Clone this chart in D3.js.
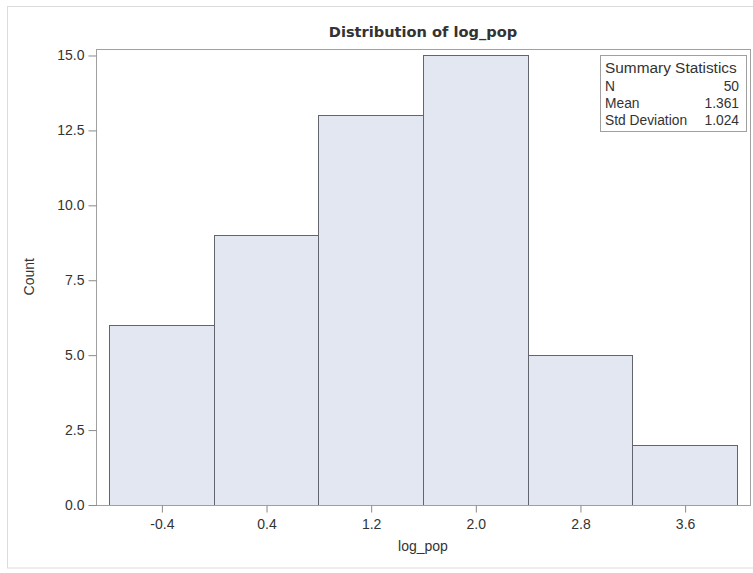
<!DOCTYPE html>
<html><head><meta charset="utf-8">
<script src="https://cdn.jsdelivr.net/npm/d3@7"></script>
<style>
html,body{margin:0;padding:0;background:#fff;}
text{font-family:"Liberation Sans",Arial,sans-serif;fill:#333;}
</style></head>
<body>
<svg id="chart" width="753" height="573"></svg>
<script>
const binCenters = [-0.4, 0.4, 1.2, 2.0, 2.8, 3.6];
const counts = [6, 9, 13, 15, 5, 2];
const binWidth = 0.8;
const yTicks = [0, 2.5, 5, 7.5, 10, 12.5, 15];
const statLabels = ["N", "Mean", "Std Deviation"];
const statValues = ["50", "1.361", "1.024"];

const svg = d3.select("#chart");
const L = 96, R = 750, T = 49, B = 504.5;

svg.append("rect").attr("x", 7.5).attr("y", 6.5).attr("width", 760).attr("height", 561.5)
  .attr("fill", "none").attr("stroke", "#dcdcdc");

const x = d3.scaleLinear().domain([-0.9, 4.1]).range([L, R]);
const y = d3.scaleLinear().domain([0, 15.2]).range([B, T]);

// bars
svg.append("g").selectAll("rect").data(binCenters).join("rect")
  .attr("x", (d) => Math.round(x(d - binWidth / 2)) + 0.5)
  .attr("width", (d) => Math.round(x(d + binWidth / 2)) - Math.round(x(d - binWidth / 2)))
  .attr("y", (d, i) => Math.round(y(counts[i])) + 0.5)
  .attr("height", (d, i) => Math.round(y(0)) - Math.round(y(counts[i])))
  .attr("fill", "#e3e7f1").attr("stroke", "#62656d").attr("stroke-width", 1);

// plot frame
svg.append("rect").attr("x", L + 0.5).attr("y", T + 0.5).attr("width", R - L).attr("height", Math.round(B) - T)
  .attr("fill", "none").attr("stroke", "#a0a0a0");

// x axis
const xAxis = d3.axisBottom(x).tickValues(binCenters).tickFormat(d3.format(".1f")).tickSize(7).tickPadding(4);
const gx = svg.append("g").attr("transform", `translate(0.5,${Math.round(B) + 0.5})`).call(xAxis);
gx.select(".domain").remove();
gx.selectAll("line").attr("stroke", "#8a8a8a");
gx.selectAll("text").attr("font-size", "14px").attr("fill", "#333").attr("dy", "0.9em")
  .text((d) => d3.format(".1f")(d).replace("−", "-"));

// y axis
const yAxis = d3.axisLeft(y).tickValues(yTicks).tickFormat(d3.format(".1f")).tickSize(8).tickPadding(4);
const gy = svg.append("g").attr("transform", `translate(${L + 0.5},0.5)`).call(yAxis);
gy.select(".domain").remove();
gy.selectAll("line").attr("stroke", "#8a8a8a");
gy.selectAll("text").attr("font-size", "14px").attr("fill", "#333");

// title
svg.append("text").attr("x", (L + R) / 2).attr("y", 37).attr("text-anchor", "middle")
  .style("font-family", "'DejaVu Sans', sans-serif").attr("font-weight", "bold").attr("font-size", "14.6px")
  .attr("fill", "#111").text("Distribution of log_pop");

// axis labels
svg.append("text").attr("x", (L + R) / 2).attr("y", 551).attr("text-anchor", "middle")
  .attr("font-size", "14px").text("log_pop");
svg.append("text").attr("transform", `translate(34,${(T + B) / 2}) rotate(-90)`).attr("text-anchor", "middle")
  .attr("font-size", "14px").text("Count");

// inset
const inset = svg.append("g");
inset.append("rect").attr("x", 600.5).attr("y", 55.5).attr("width", 146).attr("height", 76)
  .attr("fill", "#fff").attr("stroke", "#a0a0a0");
inset.append("text").attr("x", 605).attr("y", 73).attr("font-size", "15.4px").text("Summary Statistics");
statLabels.forEach((s, i) => {
  inset.append("text").attr("x", 605).attr("y", 91 + i * 17).attr("font-size", "13.8px").text(s);
  inset.append("text").attr("x", 739).attr("y", 91 + i * 17).attr("text-anchor", "end")
    .attr("font-size", "13.8px").text(statValues[i]);
});
</script>
</body></html>
